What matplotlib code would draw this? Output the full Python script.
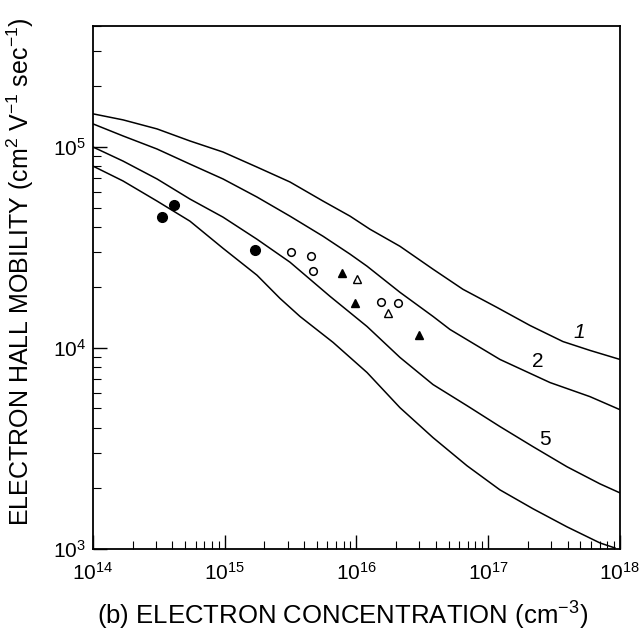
import numpy as np
import matplotlib
matplotlib.use("Agg")
import matplotlib.pyplot as plt

plt.rcParams['font.family'] = ['Liberation Sans', 'DejaVu Sans']
plt.rcParams['mathtext.fontset'] = 'custom'
plt.rcParams['mathtext.rm'] = 'Liberation Sans'
plt.rcParams['mathtext.it'] = 'Liberation Sans:italic'

# theoretical curves as (log10 n, log10 mobility)
curve1_logn = [14.00, 14.228, 14.486, 14.736, 14.987, 15.245, 15.495, 15.746, 15.951,
               16.102, 16.330, 16.581, 16.808, 17.066, 17.317, 17.567, 17.772, 18.00]
curve1_logmu = [5.165, 5.135, 5.090, 5.030, 4.975, 4.900, 4.826, 4.731, 4.656,
                4.591, 4.506, 4.392, 4.292, 4.202, 4.112, 4.032, 3.988, 3.943]

curve2_logn = [14.00, 14.228, 14.486, 14.736, 14.987, 15.245, 15.495, 15.746, 15.951,
               16.080, 16.330, 16.581, 16.710, 17.089, 17.469, 17.772, 18.00]
curve2_logmu = [5.115, 5.055, 4.990, 4.915, 4.841, 4.751, 4.656, 4.556, 4.467,
                4.407, 4.277, 4.157, 4.092, 3.943, 3.828, 3.758, 3.693]

curve5_logn = [14.00, 14.228, 14.486, 14.736, 14.987, 15.245, 15.495, 15.799, 16.080,
               16.330, 16.581, 16.839, 17.089, 17.340, 17.598, 17.848, 18.00]
curve5_logmu = [5.000, 4.930, 4.841, 4.741, 4.651, 4.541, 4.427, 4.257, 4.107,
                3.953, 3.818, 3.713, 3.609, 3.509, 3.409, 3.324, 3.279]

curve4_logn = [14.00, 14.228, 14.486, 14.736, 14.987, 15.245, 15.419, 15.571, 15.822,
               16.080, 16.330, 16.581, 16.839, 17.089, 17.340, 17.598, 17.848, 17.962]
curve4_logmu = [4.905, 4.831, 4.731, 4.631, 4.496, 4.362, 4.247, 4.157, 4.028,
                3.878, 3.703, 3.554, 3.414, 3.294, 3.200, 3.110, 3.030, 3.005]

# measured points
filled_circ_n = [3.32e14, 4.14e14, 1.70e15]
filled_circ_mu = [4.48e4, 5.13e4, 3.07e4]
open_circ_n = [3.17e15, 4.48e15, 4.64e15, 1.53e16, 2.05e16]
open_circ_mu = [3.02e4, 2.87e4, 2.41e4, 1.70e4, 1.67e4]
filled_tri_n = [7.72e15, 9.74e15, 3.00e16]
filled_tri_mu = [2.35e4, 1.68e4, 1.16e4]
open_tri_n = [1.01e16, 1.74e16]
open_tri_mu = [2.21e4, 1.49e4]

# curve labels
label_text = ['1', '2', '5']
label_n = [4.89e17, 2.39e17, 2.70e17]
label_mu = [1.19e4, 8.57e3, 3.50e3]

fig = plt.figure(figsize=(6.44, 6.31), dpi=100)
ax = fig.add_axes([0.1444, 0.1300, 0.8183, 0.8288])

for xs, ys in [(curve1_logn, curve1_logmu), (curve2_logn, curve2_logmu),
               (curve5_logn, curve5_logmu), (curve4_logn, curve4_logmu)]:
    ax.plot(10 ** np.array(xs), 10 ** np.array(ys), color='black', lw=1.1,
            solid_joinstyle='round')

ax.plot(filled_circ_n, filled_circ_mu, 'o', color='black', ms=7)
ax.plot(open_circ_n, open_circ_mu, 'o', mfc='white', mec='black', mew=1.1, ms=5.5)
ax.plot(filled_tri_n, filled_tri_mu, '^', color='black', ms=6)
ax.plot(open_tri_n, open_tri_mu, '^', mfc='white', mec='black', mew=1.0, ms=5.5)

for t, n, mu in zip(label_text, label_n, label_mu):
    ax.text(n, mu, t, fontsize=15, style='italic' if t == '1' else 'normal',
            ha='center', va='center')

ax.set_xscale('log')
ax.set_yscale('log')
ax.set_xlim(1e14, 1e18)
ax.set_ylim(1e3, 4e5)

ax.tick_params(which='both', direction='in', top=False, right=False, labelsize=15)
ax.tick_params(which='major', length=10, width=1)
ax.tick_params(which='minor', length=6, width=0.8)
ax.tick_params(axis='x', pad=9)
ax.tick_params(axis='y', pad=5)
for s in ax.spines.values():
    s.set_linewidth(1.3)

ax.set_xlabel('(b) ELECTRON CONCENTRATION (cm$^{-3}$)', fontsize=18.5)
ax.set_ylabel('ELECTRON HALL MOBILITY (cm$^{2}$ V$^{-1}$ sec$^{-1}$)', fontsize=18)
ax.xaxis.set_label_coords(0.474, -0.097)
ax.yaxis.set_label_coords(-0.108, 0.53)

fig.savefig('out.png', dpi=100)
